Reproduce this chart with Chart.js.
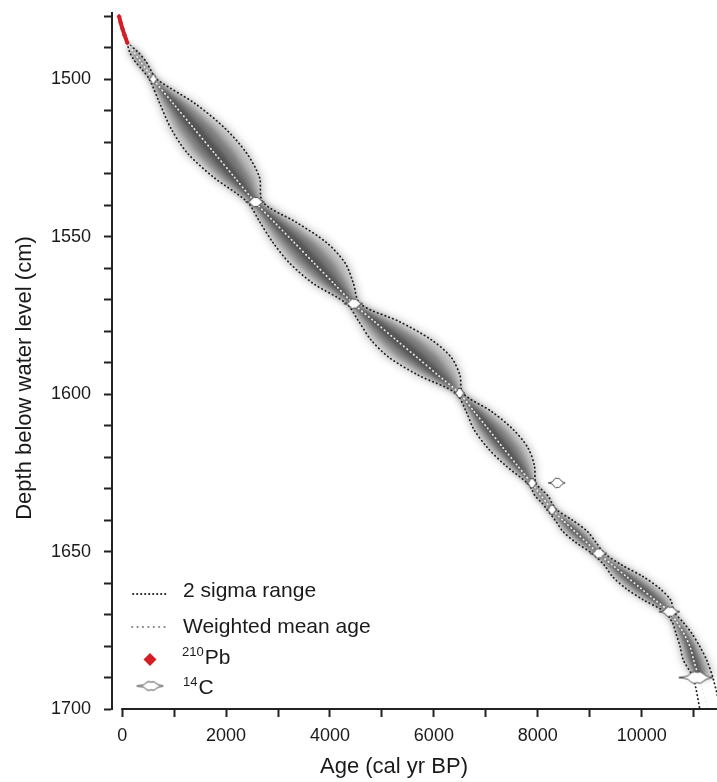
<!DOCTYPE html>
<html>
<head>
<meta charset="utf-8">
<script src="https://cdn.jsdelivr.net/npm/chart.js@4.4.1/dist/chart.umd.min.js"></script>
<style>
  html, body { margin: 0; padding: 0; background: #fff; }
  #wrap { width: 717px; height: 782px; }
</style>
</head>
<body>
<div id="wrap"><canvas id="ageDepth" width="717" height="782"></canvas></div>
<script>
// Age-depth model, values

// Model: depth (cm) with 2 sigma lower / upper age and weighted mean age (cal yr BP)
const modelDepth = [1488.5, 1491.4, 1494.25, 1497.1,
  1500, 1507.8, 1515.6, 1523.4, 1531.2,
  1539, 1545.5, 1551.9, 1558.4, 1564.8,
  1571.3, 1577, 1582.7, 1588.3, 1594,
  1599.7, 1605.4, 1611.1, 1616.9, 1622.6,
  1628.3, 1630.4, 1632.5, 1634.6,
  1636.7, 1640.2, 1643.65, 1647.1,
  1650.6, 1654.3, 1658, 1661.7, 1665.4,
  1669.1, 1672.5, 1676, 1680.2, 1684.4, 1690, 1700];
const lowerAge = [100, 143, 242, 390,
  523, 726, 938, 1251, 1763,
  2406, 2655, 2903, 3222, 3670,
  4319, 4557, 4785, 5133, 5701,
  6419, 6618, 6767, 7025, 7374,
  7803, 7889, 7956, 8082,
  8178, 8342, 8486, 8731,
  9045, 9278, 9441, 9695, 10038,
  10441, 10590, 10660, 10740, 10800, 10990, 11120];
const meanAge = [100, 223, 347, 470,
  593, 986, 1378, 1771, 2163,
  2556, 2935, 3313, 3692, 4070,
  4449, 4857, 5265, 5673, 6081,
  6489, 6768, 7047, 7325, 7604,
  7883, 7979, 8076, 8172,
  8268, 8492, 8716, 8941,
  9165, 9438, 9711, 9985, 10258,
  10531, 10680, 10810, 10930, 11000, 11100, 11280];
const upperAge = [100, 303, 452, 550,
  663, 1406, 1978, 2391, 2643,
  2706, 3355, 3933, 4292, 4450,
  4579, 5337, 5945, 6333, 6501,
  6559, 7098, 7517, 7805, 7934,
  7963, 8079, 8206, 8272,
  8358, 8682, 8956, 9121,
  9285, 9618, 10031, 10345, 10558,
  10621, 10800, 10965, 11120, 11250, 11370, 11520];
const shadeEndDepth = 1690;

// 210Pb dated top section
const pbDepth = [1480, 1482, 1484, 1486, 1488.5];
const pbAge = [-60, -30, 5, 45, 100];

// 14C dates: depth, calibrated age and half range (cal yr)
const c14Depth = [1500, 1539, 1571.3, 1599.7, 1628.3, 1628.2, 1636.7, 1650.6, 1669.1, 1690];
const c14Age = [593, 2556, 4449, 6489, 7883, 8364, 8268, 9165, 10531, 11040];
const c14Range = [90, 180, 180, 110, 110, 160, 110, 160, 200, 330];

// Axes: tick positions and the ones that carry a label
const ageTicks = [0, 1000, 2000, 3000, 4000, 5000, 6000, 7000, 8000, 9000, 10000, 11000];
const ageLabels = [0, 2000, 4000, 6000, 8000, 10000];
const depthTicks = [1480, 1490, 1500, 1510, 1520, 1530, 1540, 1550, 1560, 1570, 1580,
  1590, 1600, 1610, 1620, 1630, 1640, 1650, 1660, 1670, 1680, 1690, 1700];
const depthLabels = [1500, 1550, 1600, 1650, 1700];

const FONT = '"Liberation Sans", Arial, Helvetica, sans-serif';
const INK = '#1a1a1a';

// White calibrated-date blob used as point style
const blobCache = {};
function c14Blob(halfPx, h) {
  const w = Math.max(8, Math.round(halfPx * 2));
  const key = w + '_' + h;
  if (blobCache[key]) return blobCache[key];
  const c = document.createElement('canvas');
  c.width = w + 4;
  c.height = h + 4;
  const g = c.getContext('2d');
  const cy = c.height / 2;
  const prof = [0, 0.1, 0.14, 0.3, 0.75, 1, 0.85, 0.95, 0.6, 0.25, 0.12, 0];
  g.beginPath();
  prof.forEach((p, i) => g.lineTo(2 + w * i / (prof.length - 1), cy - p * h / 2));
  for (let i = prof.length - 1; i >= 0; i--) {
    g.lineTo(2 + w * i / (prof.length - 1), cy + prof[i] * h / 2);
  }
  g.closePath();
  g.fillStyle = '#fff';
  g.fill();
  g.strokeStyle = '#444';
  g.lineWidth = 1;
  g.stroke();
  blobCache[key] = c;
  return c;
}

function pxPerYear(chart) {
  const x = chart.scales.x;
  if (!x) return 0.052;
  return Math.abs(x.getPixelForValue(1000) - x.getPixelForValue(0)) / 1000;
}

// Grey probability cloud between the 2 sigma lines
const shadePlugin = {
  id: 'shade',
  beforeDatasetsDraw(chart) {
    const {ctx, chartArea, scales: {x, y}} = chart;
    const idx = modelDepth.map((d, i) => i).filter(i => modelDepth[i] <= shadeEndDepth);
    const layers = [[1.08, 'rgba(0,0,0,0.28)', 4], [0.62, 'rgba(0,0,0,0.36)', 3], [0.25, 'rgba(0,0,0,0.3)', 2]];
    ctx.save();
    ctx.beginPath();
    ctx.rect(chartArea.left, chartArea.top, chartArea.width, chartArea.height);
    ctx.clip();
    layers.forEach(([f, color, blur]) => {
      ctx.filter = 'blur(' + blur + 'px)';
      ctx.fillStyle = color;
      ctx.beginPath();
      idx.forEach(i => {
        const a = meanAge[i] - f * (meanAge[i] - lowerAge[i]);
        ctx.lineTo(x.getPixelForValue(a), y.getPixelForValue(modelDepth[i]));
      });
      idx.slice().reverse().forEach(i => {
        const a = meanAge[i] + f * (upperAge[i] - meanAge[i]);
        ctx.lineTo(x.getPixelForValue(a), y.getPixelForValue(modelDepth[i]));
      });
      ctx.closePath();
      ctx.fill();
    });
    ctx.restore();
  }
};

// Open x axis line (starts at age 0), titles and the key
const decorPlugin = {
  id: 'decor',
  afterDatasetsDraw(chart) {
    const {ctx, chartArea, scales: {x}} = chart;
    ctx.save();
    ctx.strokeStyle = '#222';
    ctx.lineWidth = 2;
    ctx.beginPath();
    ctx.moveTo(x.getPixelForValue(0) - 1, chartArea.bottom);
    ctx.lineTo(chartArea.right, chartArea.bottom);
    ctx.stroke();
    ctx.restore();
  },
  afterDraw(chart) {
    const ctx = chart.ctx;
    ctx.save();
    ctx.fillStyle = INK;
    ctx.font = '22px ' + FONT;
    ctx.textAlign = 'center';
    ctx.textBaseline = 'middle';
    ctx.fillText('Age (cal yr BP)', 394, 767);
    ctx.translate(25, 378);
    ctx.rotate(-Math.PI / 2);
    ctx.fillText('Depth below water level (cm)', 0, 0);
    ctx.restore();

    // key
    ctx.save();
    ctx.lineCap = 'round';
    ctx.lineWidth = 1.8;
    ctx.setLineDash([0.4, 3.6]);
    ctx.strokeStyle = '#2a2a2a';
    ctx.beginPath(); ctx.moveTo(133, 594); ctx.lineTo(168, 594); ctx.stroke();
    ctx.setLineDash([0.4, 5]);
    ctx.strokeStyle = '#8a8a8a';
    ctx.beginPath(); ctx.moveTo(132, 627); ctx.lineTo(166, 627); ctx.stroke();
    ctx.setLineDash([]);
    ctx.fillStyle = '#d41e26';
    ctx.beginPath();
    ctx.moveTo(150, 653); ctx.lineTo(156.5, 659.5); ctx.lineTo(150, 666); ctx.lineTo(143.5, 659.5);
    ctx.closePath(); ctx.fill();
    const b = c14Blob(13.5, 9);
    ctx.drawImage(b, 150 - b.width / 2, 686 - b.height / 2);

    ctx.fillStyle = INK;
    ctx.textBaseline = 'alphabetic';
    ctx.font = '21px ' + FONT;
    ctx.fillText('2 sigma range', 183, 597);
    ctx.fillText('Weighted mean age', 183, 633);
    ctx.font = '13px ' + FONT;
    ctx.fillText('210', 182, 656);
    let w = ctx.measureText('210').width;
    ctx.font = '21px ' + FONT;
    ctx.fillText('Pb', 182 + w + 1, 664);
    ctx.font = '13px ' + FONT;
    ctx.fillText('14', 183, 686);
    w = ctx.measureText('14').width;
    ctx.font = '21px ' + FONT;
    ctx.fillText('C', 183 + w + 1, 694);
    ctx.restore();
  }
};

const dotted = {
  showLine: true,
  pointRadius: 0,
  borderWidth: 1.8,
  borderCapStyle: 'round',
  borderDash: [0.4, 3.6],
  tension: 0.3,
  fill: false
};

const toPoints = (ages, depths) => depths.map((d, i) => ({x: ages[i], y: d}));

new Chart(document.getElementById('ageDepth'), {
  type: 'scatter',
  data: {
    datasets: [
      {
        label: '14C',
        data: toPoints(c14Age, c14Depth),
        pointStyle: ctx => c14Blob(c14Range[ctx.dataIndex] * pxPerYear(ctx.chart), ctx.dataIndex === c14Age.length - 1 ? 12 : 10),
        pointRadius: 6,
        order: 0
      },
      {
        label: '210Pb',
        data: toPoints(pbAge, pbDepth),
        showLine: true,
        borderColor: '#d41e26',
        borderWidth: 4,
        backgroundColor: '#d41e26',
        pointStyle: 'rectRot',
        pointRadius: 2.5,
        pointBorderWidth: 0,
        order: 1
      },
      {
        label: 'Weighted mean age',
        data: toPoints(meanAge, modelDepth),
        showLine: true,
        pointRadius: 0,
        borderWidth: 1.8,
        borderCapStyle: 'round',
        tension: 0.3,
        borderColor: 'rgba(238,238,238,0.95)',
        borderDash: [0.4, 3.8],
        order: 2
      },
      Object.assign({label: '2 sigma lower', data: toPoints(lowerAge, modelDepth), borderColor: '#222', order: 3}, dotted),
      Object.assign({label: '2 sigma upper', data: toPoints(upperAge, modelDepth), borderColor: '#222', order: 3}, dotted)
    ]
  },
  options: {
    responsive: false,
    animation: false,
    devicePixelRatio: 1,
    layout: {autoPadding: false, padding: {top: 13, right: 0, bottom: 0, left: 0}},
    plugins: {legend: {display: false}, tooltip: {enabled: false}},
    scales: {
      x: {
        type: 'linear',
        min: -196,
        max: 11450,
        border: {display: false},
        grid: {display: true, drawOnChartArea: false, drawTicks: true, tickLength: 8, tickColor: '#222', tickWidth: 2},
        afterBuildTicks: s => { s.ticks = ageTicks.map(v => ({value: v})); },
        ticks: {
          autoSkip: false,
          maxRotation: 0,
          padding: 8,
          color: INK,
          font: {family: FONT, size: 18},
          callback: v => ageLabels.includes(v) ? String(v) : ''
        },
        afterFit: s => { s.height = 73; s.paddingLeft = 0; s.paddingRight = 0; }
      },
      y: {
        type: 'linear',
        reverse: true,
        min: 1479,
        max: 1700,
        border: {display: true, color: '#222', width: 2},
        grid: {display: true, drawOnChartArea: false, drawTicks: true, tickLength: 8, tickColor: '#222', tickWidth: 2},
        afterBuildTicks: s => { s.ticks = depthTicks.map(v => ({value: v})); },
        ticks: {
          autoSkip: false,
          padding: 13,
          color: INK,
          font: {family: FONT, size: 18},
          callback: v => depthLabels.includes(v) ? String(v) : ''
        },
        afterFit: s => { s.width = 112; s.paddingTop = 0; s.paddingBottom = 0; }
      }
    }
  },
  plugins: [shadePlugin, decorPlugin]
});
</script>
</body>
</html>
